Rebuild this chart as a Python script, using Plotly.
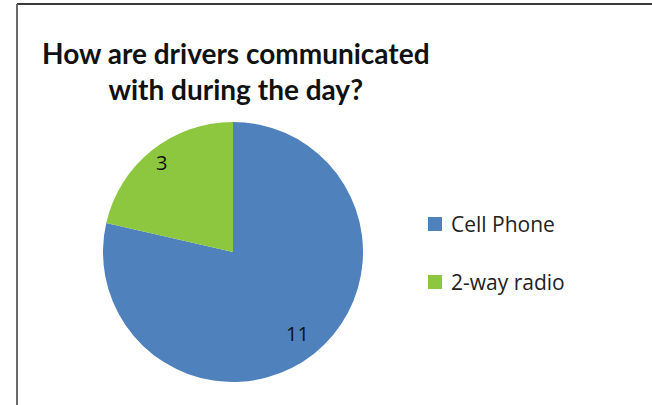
import math
import plotly.graph_objects as go

# Survey answers: how drivers are contacted during the day
categories = ["Cell Phone", "2-way radio"]
counts = [11, 3]
colors = ["#4F81BD", "#8DC63F"]
title_text = "How are drivers communicated<br>with during the day?"

W, H = 652, 405
# pie placement in pixels (centre and radius)
cx, cy, r = 233, 252, 130
# radial position of each value label, as a fraction of the radius
label_r = [0.80, 0.88]


def px(x):
    return x / W


def py(y):
    return 1 - y / H


fig = go.Figure(
    go.Pie(
        labels=categories,
        values=counts,
        sort=False,
        direction="clockwise",
        rotation=0,
        marker=dict(colors=colors, line=dict(width=0)),
        textinfo="none",
        domain=dict(x=[px(cx - r), px(cx + r)], y=[py(cy + r), py(cy - r)]),
        showlegend=False,
        hoverinfo="label+value",
    )
)

shapes = [
    # chart frame: top and left edges
    dict(type="line", xref="paper", yref="paper", x0=px(17), x1=1, y0=py(4), y1=py(4),
         line=dict(color="#3a3a3a", width=2)),
    dict(type="line", xref="paper", yref="paper", x0=px(17), x1=px(17), y0=py(4), y1=0,
         line=dict(color="#6a6a6a", width=2)),
]
annotations = [
    dict(text="<b>" + title_text + "</b>", xref="paper", yref="paper", x=px(236), y=py(71),
         xanchor="center", yanchor="middle", showarrow=False, align="center",
         font=dict(family="Lato", size=28, color="#111111")),
]

# value labels at the middle angle of each slice (clockwise from 12 o'clock)
total = sum(counts)
cum = 0
for v, fr in zip(counts, label_r):
    theta = 2 * math.pi * (cum + v / 2) / total
    cum += v
    lx = cx + fr * r * math.sin(theta)
    ly = cy - fr * r * math.cos(theta)
    annotations.append(dict(text=str(v), xref="paper", yref="paper", x=px(lx), y=py(ly),
                            xanchor="center", yanchor="middle", showarrow=False,
                            font=dict(family="Open Sans", size=20, color="#111111")))

# legend entries, one row per category
leg_x, leg_y, leg_gap, box = 428, 224, 58, 14
for i, (name, col) in enumerate(zip(categories, colors)):
    yc = leg_y + i * leg_gap
    shapes.append(dict(type="rect", xref="paper", yref="paper",
                       x0=px(leg_x), x1=px(leg_x + box), y0=py(yc + box / 2), y1=py(yc - box / 2),
                       fillcolor=col, line=dict(width=0)))
    annotations.append(dict(text=name, xref="paper", yref="paper", x=px(leg_x + box + 7), y=py(yc),
                            xanchor="left", yanchor="middle", showarrow=False,
                            font=dict(family="Open Sans", size=21, color="#222222")))

fig.update_layout(
    width=W, height=H,
    margin=dict(l=0, r=0, t=0, b=0),
    paper_bgcolor="white",
    plot_bgcolor="white",
    shapes=shapes,
    annotations=annotations,
)

fig.write_html("out.html")
